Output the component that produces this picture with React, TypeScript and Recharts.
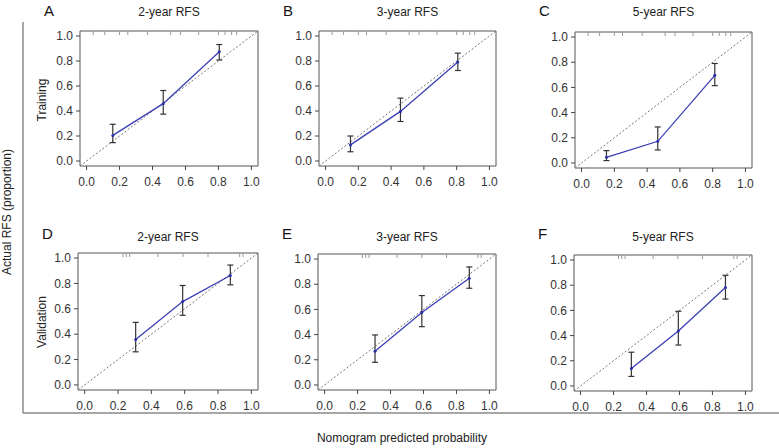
import React from "react";
import {
  ComposedChart,
  Line,
  Scatter,
  XAxis,
  YAxis,
  ErrorBar,
  ReferenceLine,
  ReferenceArea,
} from "recharts";

const axisTicks = [0, 0.2, 0.4, 0.6, 0.8, 1.0];

const aX = [0.159, 0.465, 0.805];
const aY = [0.205, 0.459, 0.874];
const aLo = [0.147, 0.375, 0.808];
const aHi = [0.294, 0.564, 0.932];

const bX = [0.152, 0.457, 0.807];
const bY = [0.129, 0.397, 0.792];
const bLo = [0.074, 0.316, 0.724];
const bHi = [0.2, 0.503, 0.863];

const cX = [0.152, 0.465, 0.813];
const cY = [0.045, 0.172, 0.696];
const cLo = [0.019, 0.103, 0.614];
const cHi = [0.098, 0.286, 0.79];

const dX = [0.306, 0.588, 0.874];
const dY = [0.359, 0.657, 0.863];
const dLo = [0.261, 0.549, 0.789];
const dHi = [0.493, 0.784, 0.945];

const eX = [0.306, 0.59, 0.878];
const eY = [0.268, 0.576, 0.847];
const eLo = [0.18, 0.463, 0.768];
const eHi = [0.397, 0.71, 0.937];

const fX = [0.308, 0.593, 0.879];
const fY = [0.139, 0.436, 0.782];
const fLo = [0.076, 0.325, 0.69];
const fHi = [0.268, 0.593, 0.879];

const rugTraining = [0.04, 0.11, 0.2, 0.25, 0.37, 0.51, 0.57, 0.68, 0.8, 0.84, 0.88, 0.91];
const rugValidation = [0.23, 0.25, 0.27, 0.44, 0.59, 0.74, 0.93, 0.95];

const panelLetters = ["A", "B", "C", "D", "E", "F"];
const panelTitles = ["2-year RFS", "3-year RFS", "5-year RFS", "2-year RFS", "3-year RFS", "5-year RFS"];
const rowLabels = ["Training", "Validation"];
const yTitle = "Actual RFS (proportion)";
const xTitle = "Nomogram predicted probability";

const FONT = "'Liberation Sans', Arial, Helvetica, sans-serif";
const LO = -0.04;
const HI = 1.04;

type Box = { left: number; top: number; w: number; h: number };

const boxes: Box[] = [
  { left: 80, top: 31, w: 178, h: 135 },
  { left: 319, top: 31, w: 177, h: 135 },
  { left: 575, top: 32, w: 177, h: 136 },
  { left: 78, top: 253, w: 180, h: 137 },
  { left: 318, top: 254, w: 178, h: 136 },
  { left: 574, top: 255, w: 178, h: 136 },
];

const series = [
  { x: aX, y: aY, lo: aLo, hi: aHi, rug: rugTraining },
  { x: bX, y: bY, lo: bLo, hi: bHi, rug: rugTraining },
  { x: cX, y: cY, lo: cLo, hi: cHi, rug: rugTraining },
  { x: dX, y: dY, lo: dLo, hi: dHi, rug: rugValidation },
  { x: eX, y: eY, lo: eLo, hi: eHi, rug: rugValidation },
  { x: fX, y: fY, lo: fLo, hi: fHi, rug: rugValidation },
];

const ML = 40;
const MT = 10;
const MR = 10;
const MB = 30;

const RugTick = (p: any) => {
  if (p.cx == null || p.cy == null) return null;
  return <line x1={p.cx} x2={p.cx} y1={p.cy} y2={p.cy + 4} stroke="#999" strokeWidth={1} />;
};

function Panel({ idx }: { idx: number }) {
  const b = boxes[idx];
  const s = series[idx];
  const pts = s.x.map((x, i) => ({
    x,
    y: s.y[i],
    err: [s.y[i] - s.lo[i], s.hi[i] - s.y[i]],
  }));
  const rug = s.rug.map((x) => ({ x, y: HI }));
  const tickStyle = { fill: "#333", fontSize: 12, fontFamily: FONT };
  return (
    <div style={{ position: "absolute", left: b.left - ML, top: b.top - MT }}>
      <ComposedChart
        width={b.w + ML + MR}
        height={b.h + MT + MB}
        margin={{ top: MT, right: MR, left: 0, bottom: 0 }}
      >
        <XAxis
          type="number"
          dataKey="x"
          domain={[LO, HI]}
          ticks={axisTicks}
          allowDataOverflow
          axisLine={false}
          tickSize={4}
          tickMargin={7}
          tickLine={{ stroke: "#444" }}
          tick={tickStyle}
          tickFormatter={(v: number) => v.toFixed(1)}
          height={MB}
          interval={0}
        />
        <YAxis
          type="number"
          dataKey="y"
          domain={[LO, HI]}
          ticks={axisTicks}
          allowDataOverflow
          axisLine={false}
          tickSize={4}
          tickMargin={3}
          tickLine={{ stroke: "#444" }}
          tick={tickStyle}
          tickFormatter={(v: number) => v.toFixed(1)}
          width={ML}
          interval={0}
        />
        <ReferenceArea
          x1={LO}
          x2={HI}
          y1={LO}
          y2={HI}
          fill="none"
          fillOpacity={0}
          stroke="#555"
          strokeWidth={1}
          ifOverflow="visible"
        />
        <ReferenceLine
          segment={[
            { x: LO, y: LO },
            { x: HI, y: HI },
          ]}
          stroke="#777"
          strokeDasharray="2 2"
          ifOverflow="visible"
        />
        <Scatter data={rug} shape={RugTick} isAnimationActive={false} />
        <Line
          data={pts}
          dataKey="y"
          stroke="#3b3fb5"
          strokeWidth={1.3}
          dot={{ r: 1.5, fill: "#2a2fa8", stroke: "none" }}
          isAnimationActive={false}
        >
          <ErrorBar dataKey="err" width={3} stroke="#333" strokeWidth={1.2} direction="y" />
        </Line>
      </ComposedChart>
    </div>
  );
}

export default function App() {
  return (
    <div
      style={{
        position: "absolute",
        left: 0,
        top: 0,
        width: 779,
        height: 448,
        background: "#fff",
        overflow: "hidden",
        fontFamily: FONT,
      }}
    >
      <svg width={779} height={448} style={{ position: "absolute", left: 0, top: 0 }}>
        <line x1={23} y1={22} x2={23} y2={413} stroke="#8a8a8a" strokeWidth={1.5} />
        <line x1={23} y1={413} x2={779} y2={413} stroke="#8a8a8a" strokeWidth={1.5} />
        {boxes.map((b, i) => (
          <g key={i}>
            <text
              x={b.left - 36}
              y={i < 3 ? 16 : 239}
              fontSize={15}
              fill="#111"
              fontFamily={FONT}
            >
              {panelLetters[i]}
            </text>
            <text
              x={b.left + b.w / 2}
              y={i < 3 ? 16 : 241}
              fontSize={12}
              fill="#222"
              textAnchor="middle"
              fontFamily={FONT}
            >
              {panelTitles[i]}
            </text>
          </g>
        ))}
        <text
          x={0}
          y={0}
          transform="translate(46,100) rotate(-90)"
          fontSize={12}
          fill="#222"
          textAnchor="middle"
          fontFamily={FONT}
        >
          {rowLabels[0]}
        </text>
        <text
          x={0}
          y={0}
          transform="translate(46,322) rotate(-90)"
          fontSize={12}
          fill="#222"
          textAnchor="middle"
          fontFamily={FONT}
        >
          {rowLabels[1]}
        </text>
        <text
          x={0}
          y={0}
          transform="translate(11,212) rotate(-90)"
          fontSize={12}
          fill="#222"
          textAnchor="middle"
          fontFamily={FONT}
        >
          {yTitle}
        </text>
        <text x={402} y={442} fontSize={12} fill="#222" textAnchor="middle" fontFamily={FONT}>
          {xTitle}
        </text>
      </svg>
      {boxes.map((_, i) => (
        <Panel key={i} idx={i} />
      ))}
    </div>
  );
}
